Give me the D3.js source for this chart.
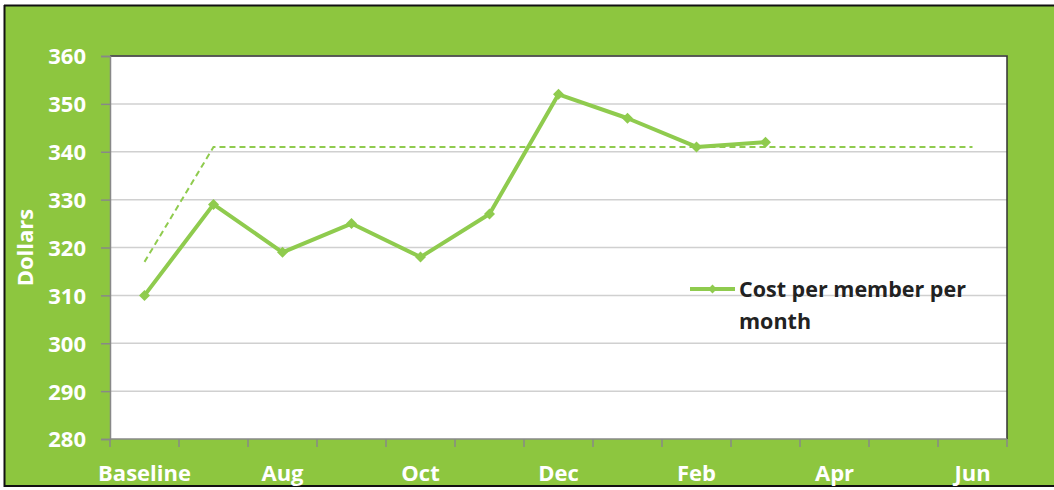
<!DOCTYPE html>
<html><head><meta charset="utf-8">
<script src="https://cdn.jsdelivr.net/npm/d3@7"></script>
<style>html,body{margin:0;padding:0;background:#fff;}svg{display:block;}</style>
</head><body>
<svg id="chart" width="1054" height="490"></svg>
<script>
const categories = ["Baseline","Jul","Aug","Sep","Oct","Nov","Dec","Jan","Feb","Mar","Apr","May","Jun"];
const costValues = [310,329,319,325,318,327,352,347,341,342,null,null,null];
const targetValues = [317,341,341,341,341,341,341,341,341,341,341,341,341];
const yTicks = [280,290,300,310,320,330,340,350,360];
const xLabelCats = ["Baseline","Aug","Oct","Dec","Feb","Apr","Jun"];
const seriesName = "Cost per member per month";
const yTitle = "Dollars";

const W = 1054, H = 490;
const green = "#8DC63F", lineGreen = "#8FCB4E";
const font = "'Open Sans', sans-serif";
const svg = d3.select("#chart");

// background + borders
svg.append("rect").attr("x",4).attr("y",5).attr("width",W-4).attr("height",481).attr("fill",green);
svg.append("line").attr("x1",4).attr("x2",W).attr("y1",5.5).attr("y2",5.5).attr("stroke","#111").attr("stroke-width",2);
svg.append("line").attr("x1",4).attr("x2",W).attr("y1",486).attr("y2",486).attr("stroke","#111").attr("stroke-width",2);
svg.append("line").attr("x1",4.5).attr("x2",4.5).attr("y1",5).attr("y2",487).attr("stroke","#111").attr("stroke-width",2);

const L = 110, R = 1007, T = 56, B = 439;
svg.append("rect").attr("x",L).attr("y",T).attr("width",R-L).attr("height",B-T).attr("fill","#fff");

const x = d3.scaleBand().domain(categories).range([L,R]).padding(0);
const y = d3.scaleLinear().domain([280,360]).range([B,T]);
const cx = d => x(d) + x.bandwidth()/2;

// gridlines
svg.append("g").selectAll("line").data(yTicks.filter(v=>v>280)).join("line")
  .attr("x1",L).attr("x2",R).attr("y1",d=>y(d)).attr("y2",d=>y(d))
  .attr("stroke","#d0d0d0").attr("stroke-width",1.5);

// plot border right/top
svg.append("path").attr("d",`M${L},${T}H${R}V${B}`).attr("fill","none").attr("stroke","#333").attr("stroke-width",1.5);

// Y axis
const yAxis = d3.axisLeft(y).tickValues(yTicks).tickSize(9).tickPadding(15).tickFormat(d3.format("d"));
const gy = svg.append("g").attr("transform",`translate(${L},0)`).call(yAxis);
gy.select(".domain").attr("stroke","#888").attr("stroke-width",1.5);
gy.selectAll(".tick line").attr("stroke","#888").attr("stroke-width",1.5);
gy.selectAll("text").attr("fill","#fff").attr("font-family",font).attr("font-weight",700).attr("font-size","22px").attr("dy","0.36em");

// X axis
const xTickPos = d3.range(categories.length+1).map(i=>L + i*x.bandwidth());
svg.append("line").attr("x1",L).attr("x2",R).attr("y1",B).attr("y2",B).attr("stroke","#888").attr("stroke-width",1.5);
svg.append("g").selectAll("line").data(xTickPos).join("line")
  .attr("x1",d=>d).attr("x2",d=>d).attr("y1",B).attr("y2",B+8).attr("stroke","#888").attr("stroke-width",1.5);
const xAxis = d3.axisBottom(x).tickValues(xLabelCats).tickSize(0).tickPadding(26);
const gx = svg.append("g").attr("transform",`translate(0,${B})`).call(xAxis);
gx.select(".domain").remove();
gx.selectAll("text").attr("fill","#fff").attr("font-family",font).attr("font-weight",700).attr("font-size","22px").attr("dy","0.71em");

// Y title
svg.append("text").attr("transform",`translate(33,${(T+B)/2}) rotate(-90)`)
  .attr("text-anchor","middle").attr("fill","#fff").attr("font-family",font).attr("font-weight",700).attr("font-size","22px").text(yTitle);

// target dashed line
const tgt = categories.map((c,i)=>({c,v:targetValues[i]}));
svg.append("path").datum(tgt)
  .attr("d",d3.line().x(d=>cx(d.c)).y(d=>y(d.v)))
  .attr("fill","none").attr("stroke",lineGreen).attr("stroke-width",2).attr("stroke-dasharray","6,4");

// cost line
const cost = categories.map((c,i)=>({c,v:costValues[i]})).filter(d=>d.v!=null);
svg.append("path").datum(cost)
  .attr("d",d3.line().x(d=>cx(d.c)).y(d=>y(d.v)))
  .attr("fill","none").attr("stroke",lineGreen).attr("stroke-width",4).attr("stroke-linejoin","round");
const diamond = "M0,-5.5L5.5,0L0,5.5L-5.5,0Z";
svg.append("g").selectAll("path").data(cost).join("path")
  .attr("transform",d=>`translate(${cx(d.c)},${y(d.v)})`).attr("d",diamond).attr("fill",lineGreen);

// legend
const lg = svg.append("g");
lg.append("line").attr("x1",690).attr("x2",735).attr("y1",289).attr("y2",289).attr("stroke",lineGreen).attr("stroke-width",4);
lg.append("path").attr("transform","translate(712.5,289) scale(0.8)").attr("d",diamond).attr("fill",lineGreen);
const words = seriesName.split(" ");
const lt = lg.append("text").attr("x",739).attr("y",297).attr("fill","#222").attr("font-family",font).attr("font-weight",700).attr("font-size","21.5px");
lt.append("tspan").attr("x",739).attr("y",297).text(words.slice(0,4).join(" "));
lt.append("tspan").attr("x",739).attr("y",329).text(words.slice(4).join(" "));
</script>
</body></html>
